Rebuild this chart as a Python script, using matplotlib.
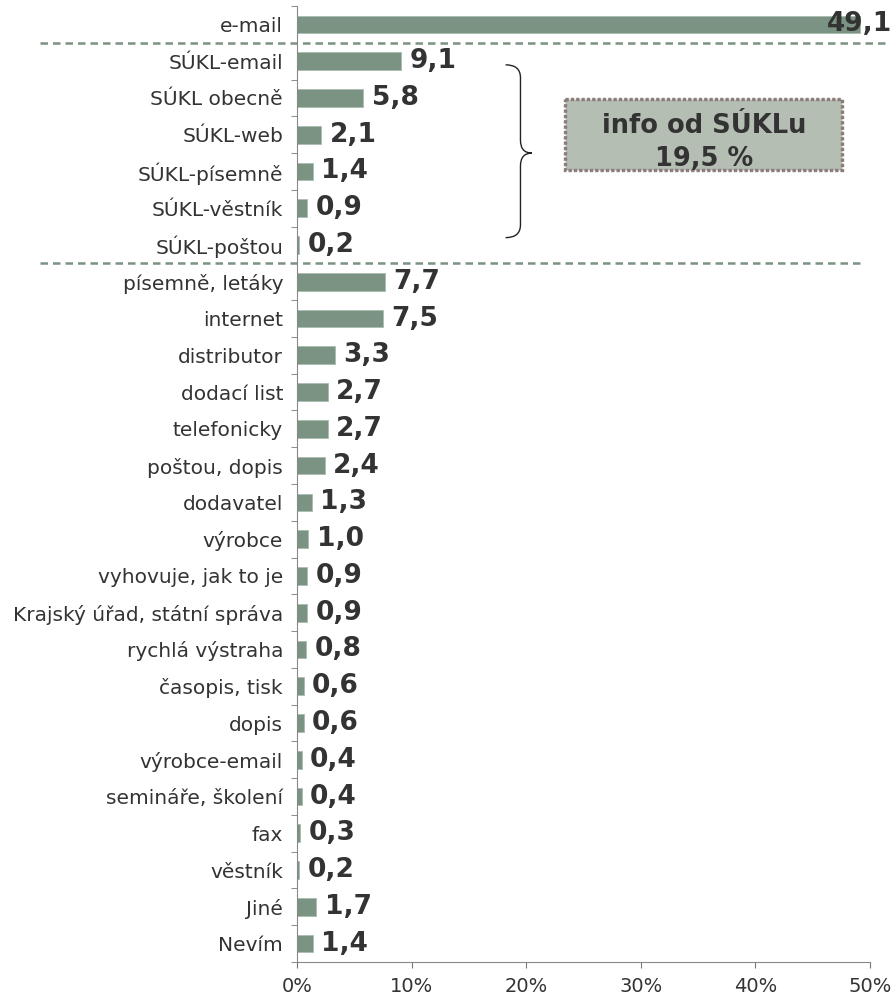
import numpy as np
import matplotlib
matplotlib.use("Agg")
import matplotlib.pyplot as plt
from matplotlib.path import Path
from matplotlib.patches import PathPatch, Rectangle
from matplotlib.transforms import blended_transform_factory

# ── data (top to bottom) ──
categories = [
    "e-mail",
    "SÚKL-email", "SÚKL obecně", "SÚKL-web", "SÚKL-písemně", "SÚKL-věstník", "SÚKL-poštou",
    "písemně, letáky", "internet", "distributor", "dodací list", "telefonicky",
    "poštou, dopis", "dodavatel", "výrobce", "vyhovuje, jak to je",
    "Krajský úřad, státní správa", "rychlá výstraha", "časopis, tisk", "dopis",
    "výrobce-email", "semináře, školení", "fax", "věstník", "Jiné", "Nevím",
]
values = [
    49.1,
    9.1, 5.8, 2.1, 1.4, 0.9, 0.2,
    7.7, 7.5, 3.3, 2.7, 2.7,
    2.4, 1.3, 1.0, 0.9,
    0.9, 0.8, 0.6, 0.6,
    0.4, 0.4, 0.3, 0.2, 1.7, 1.4,
]
sukl_idx = [1, 2, 3, 4, 5, 6]
x_ticks = [0, 10, 20, 30, 40, 50]

BAR = "#7a9382"
TXT = "#333333"

plt.rcParams["font.family"] = ["DejaVu Sans"]

fig = plt.figure(figsize=(8.95, 10.01), dpi=100)
ax = fig.add_axes([297 / 895, 39 / 1001, 573 / 895, 956 / 1001])

y = np.arange(len(categories))
ax.barh(y, values, height=0.48, color=BAR, edgecolor="#a9bbb0", linewidth=0.6)
ax.set_ylim(len(categories) - 0.5, -0.5)
ax.set_xlim(0, 50)

# value labels
for i, v in enumerate(values):
    lbl = f"{v:.1f}".replace(".", ",")
    if i == 0:
        ax.text(v, i, lbl, ha="center", va="center", fontsize=19,
                fontweight="bold", color=TXT, clip_on=False)
    else:
        ax.annotate(lbl, (v, i), xytext=(6, 0), textcoords="offset points",
                    ha="left", va="center", fontsize=19, fontweight="bold", color=TXT)

# axes styling
ax.set_yticks(y)
ax.set_yticklabels(categories, fontsize=14.5, color=TXT)
ax.set_yticks(np.arange(-0.5, len(categories)), minor=True)
ax.tick_params(axis="y", which="major", length=0, pad=10)
ax.tick_params(axis="y", which="minor", length=4, direction="out", color="#777777")
ax.set_xticks(x_ticks)
ax.set_xticklabels([f"{t}%" for t in x_ticks], fontsize=14, color=TXT)
ax.tick_params(axis="x", length=4, direction="out", color="#777777", pad=7)
for s in ["top", "right"]:
    ax.spines[s].set_visible(False)
for s in ["left", "bottom"]:
    ax.spines[s].set_color("#888888")

# dashed separators
tr = blended_transform_factory(fig.transFigure, ax.transData)
ax.plot([40 / 895, 890 / 895], [0.5, 0.5], transform=tr, color=BAR, lw=1.8,
        dashes=(3, 2), clip_on=False)
ax.plot([40 / 895, 865 / 895], [6.5, 6.5], transform=tr, color=BAR, lw=1.8,
        dashes=(3, 2), clip_on=False)

# brace
x0, xm, xp = 18.2, 19.5, 20.5
yt, ym, yb = 1.1, 3.5, 5.8
r = 0.35
verts = [(x0, yt), (xm, yt), (xm, yt + r), (xm, ym - r), (xm, ym), (xp, ym),
         (xm, ym), (xm, ym + r), (xm, yb - r), (xm, yb), (x0, yb)]
codes = [Path.MOVETO, Path.CURVE3, Path.CURVE3, Path.LINETO, Path.CURVE3, Path.CURVE3,
         Path.CURVE3, Path.CURVE3, Path.LINETO, Path.CURVE3, Path.CURVE3]
ax.add_patch(PathPatch(Path(verts, codes), facecolor="none", edgecolor="#222222", lw=1.0))

# info box
sukl_total = sum(values[i] for i in sukl_idx)
ax.add_patch(Rectangle((23.4, 2.04), 24.2, 1.93, facecolor="#b4beb2",
                       edgecolor="#8c7b7b", lw=2.4, linestyle=(0, (1, 0.6))))
ax.text(35.5, 3.2, "info od SÚKLu\n" + f"{sukl_total:.1f} %".replace(".", ","),
        ha="center", va="center", fontsize=18.5, fontweight="bold", color=TXT,
        linespacing=1.35)

plt.savefig("out.png", dpi=100)
